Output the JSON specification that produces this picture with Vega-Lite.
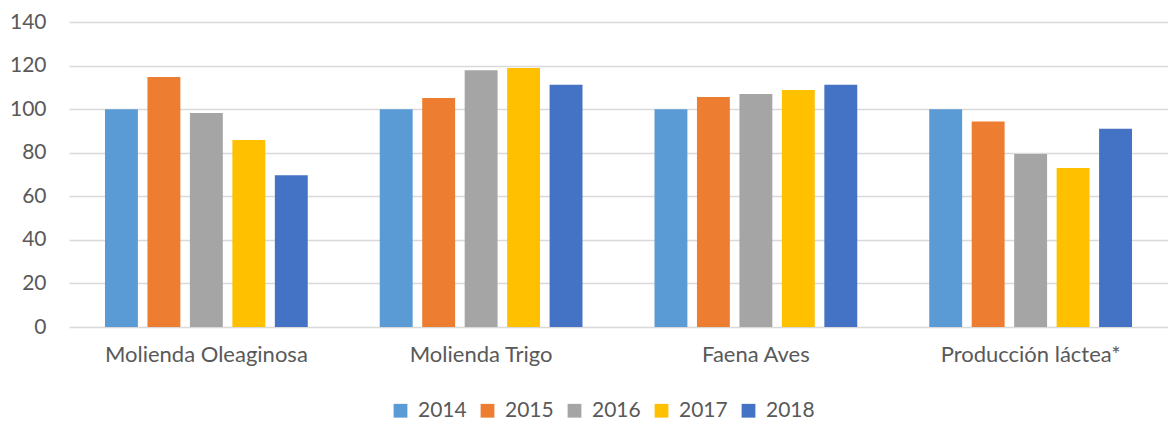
{
  "$schema": "https://vega.github.io/schema/vega-lite/v6.json",
  "autosize": {"type": "none"},
  "padding": {"left": 69, "top": 22, "right": 0, "bottom": 94},
  "width": 1099,
  "height": 305,
  "background": "white",
  "config": {
    "font": "Lato",
    "view": {"stroke": null}
  },
  "data": {
    "values": [
      {"cat": "Molienda Oleaginosa", "year": "2014", "value": 100},
      {"cat": "Molienda Oleaginosa", "year": "2015", "value": 114.7},
      {"cat": "Molienda Oleaginosa", "year": "2016", "value": 98.2},
      {"cat": "Molienda Oleaginosa", "year": "2017", "value": 85.8},
      {"cat": "Molienda Oleaginosa", "year": "2018", "value": 69.7},
      {"cat": "Molienda Trigo", "year": "2014", "value": 100},
      {"cat": "Molienda Trigo", "year": "2015", "value": 105.1},
      {"cat": "Molienda Trigo", "year": "2016", "value": 117.9},
      {"cat": "Molienda Trigo", "year": "2017", "value": 118.9},
      {"cat": "Molienda Trigo", "year": "2018", "value": 111.2},
      {"cat": "Faena Aves", "year": "2014", "value": 100},
      {"cat": "Faena Aves", "year": "2015", "value": 105.6},
      {"cat": "Faena Aves", "year": "2016", "value": 107.0},
      {"cat": "Faena Aves", "year": "2017", "value": 108.8},
      {"cat": "Faena Aves", "year": "2018", "value": 111.2},
      {"cat": "Producción láctea*", "year": "2014", "value": 100},
      {"cat": "Producción láctea*", "year": "2015", "value": 94.3},
      {"cat": "Producción láctea*", "year": "2016", "value": 79.4},
      {"cat": "Producción láctea*", "year": "2017", "value": 73.0},
      {"cat": "Producción láctea*", "year": "2018", "value": 91.0}
    ]
  },
  "mark": {"type": "bar"},
  "encoding": {
    "x": {
      "field": "cat",
      "type": "nominal",
      "sort": null,
      "title": null,
      "scale": {"paddingInner": 0.262, "paddingOuter": 0.131},
      "axis": {
        "labelAngle": 0,
        "labelFontSize": 22,
        "labelColor": "#595959",
        "labelPadding": 17,
        "labelLimit": 0,
        "domain": false,
        "ticks": false
      }
    },
    "xOffset": {
      "field": "year",
      "type": "nominal",
      "scale": {"paddingInner": 0.225, "paddingOuter": 0}
    },
    "y": {
      "field": "value",
      "type": "quantitative",
      "title": null,
      "scale": {"domain": [0, 140]},
      "axis": {
        "values": [0, 20, 40, 60, 80, 100, 120, 140],
        "labelFontSize": 21,
        "labelColor": "#595959",
        "labelPadding": 23,
        "domain": false,
        "ticks": false,
        "gridColor": "#D9D9D9",
        "gridWidth": 1.5
      }
    },
    "color": {
      "field": "year",
      "type": "nominal",
      "title": null,
      "scale": {
        "domain": ["2014", "2015", "2016", "2017", "2018"],
        "range": ["#5B9BD5", "#ED7D31", "#A5A5A5", "#FFC000", "#4472C4"]
      },
      "legend": {
        "orient": "none",
        "direction": "horizontal",
        "legendX": 321,
        "legendY": 378,
        "symbolType": "square",
        "symbolSize": 190,
        "symbolStrokeWidth": 0,
        "labelFontSize": 21,
        "labelColor": "#595959",
        "columnPadding": 10,
        "labelOffset": 7
      }
    }
  }
}
